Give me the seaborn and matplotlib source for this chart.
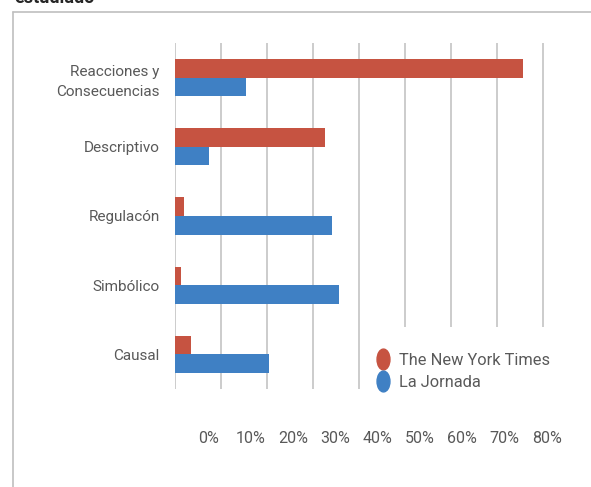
import matplotlib
matplotlib.use("Agg")
import matplotlib.pyplot as plt
import seaborn as sns
import pandas as pd
from matplotlib.lines import Line2D
from matplotlib.patches import Rectangle
from matplotlib.markers import MarkerStyle
from matplotlib.transforms import Affine2D

categories = ["Reacciones y\nConsecuencias", "Descriptivo", "Regulacón", "Simbólico", "Causal"]
series_names = ["The New York Times", "La Jornada"]
nyt_values = [75.7, 32.6, 2.0, 1.3, 3.5]
jornada_values = [15.5, 7.4, 34.2, 35.7, 20.4]
tick_values = [0, 10, 20, 30, 40, 50, 60, 70, 80]
tick_labels = ["0%", "10%", "20%", "30%", "40%", "50%", "60%", "70%", "80%"]
colors = ["#C65341", "#3F80C4"]

df = pd.DataFrame({
    "cat": categories * 2,
    "val": nyt_values + jornada_values,
    "serie": [series_names[0]] * len(categories) + [series_names[1]] * len(categories),
})

sns.set_theme(style="white")
plt.rcParams["font.family"] = ["Roboto", "DejaVu Sans"]
text_color = "#595959"

W, H = 591, 487
fig = plt.figure(figsize=(W / 100, H / 100), dpi=100)
fig.patch.set_facecolor("white")

x0, x1 = 175, 175 + 81.5 * 4.596
y_top, y_bot = 43, 389
ax = fig.add_axes([x0 / W, 1 - y_bot / H, (x1 - x0) / W, (y_bot - y_top) / H])

sns.barplot(data=df, y="cat", x="val", hue="serie", hue_order=series_names,
            palette=colors, orient="h", width=0.535, saturation=1, ax=ax,
            legend=False, errorbar=None, linewidth=0)

ax.set_xlim(0, 81.5)
ax.set_xticks(tick_values)
ax.tick_params(axis="x", length=0, labelbottom=False)
ax.tick_params(axis="y", length=0, pad=11, labelsize=11, labelcolor=text_color)
for lab in ax.get_yticklabels():
    lab.set_linespacing(1.55)
ax.grid(axis="x", color="#C8C8C8", linewidth=1.3)
ax.grid(axis="y", visible=False)
ax.set_axisbelow(True)
for s in ax.spines.values():
    s.set_visible(False)
ax.set_xlabel("")
ax.set_ylabel("")

# white area behind the legend hides the lower gridlines
ax.add_patch(Rectangle((364 / W, 0), 1, 1 - 327 / H, transform=fig.transFigure,
                       facecolor="white", edgecolor="none", zorder=0.8))

# shifted percentage labels (as in the reference)
a, b = 7.3, 0.92
sec = ax.secondary_xaxis("bottom", functions=(lambda p: (p - a) / b, lambda s: a + b * s))
sec.set_xticks(tick_values)
sec.set_xticklabels(tick_labels)
sec.tick_params(length=0, pad=30, labelsize=11.5, labelcolor=text_color)
for s in sec.spines.values():
    s.set_visible(False)

# legend
mk = MarkerStyle("o", transform=Affine2D().scale(0.62, 1.0))
handles = [Line2D([], [], linestyle="none", marker=mk, markersize=15,
                  markerfacecolor=c, markeredgecolor=c) for c in colors]
leg = fig.legend(handles, series_names, loc="upper left",
                 bbox_to_anchor=(362 / W, 1 - 338 / H), frameon=False,
                 fontsize=11.8, labelcolor=text_color, handlelength=0.8,
                 handletextpad=0.55, labelspacing=0.45, borderpad=0.4)

# outer frame and clipped title
fig.add_artist(Line2D([13 / W, 1], [1 - 12 / H, 1 - 12 / H], color="#BFBFBF", lw=1.2))
fig.add_artist(Line2D([13 / W, 13 / W], [0, 1 - 12 / H], color="#BFBFBF", lw=1.2))
fig.text(14 / W, 1 - 3 / H, "estudiado", fontsize=13, fontweight="bold",
         color="#262626", ha="left", va="baseline")

fig.savefig("out.png", dpi=100, facecolor="white")
